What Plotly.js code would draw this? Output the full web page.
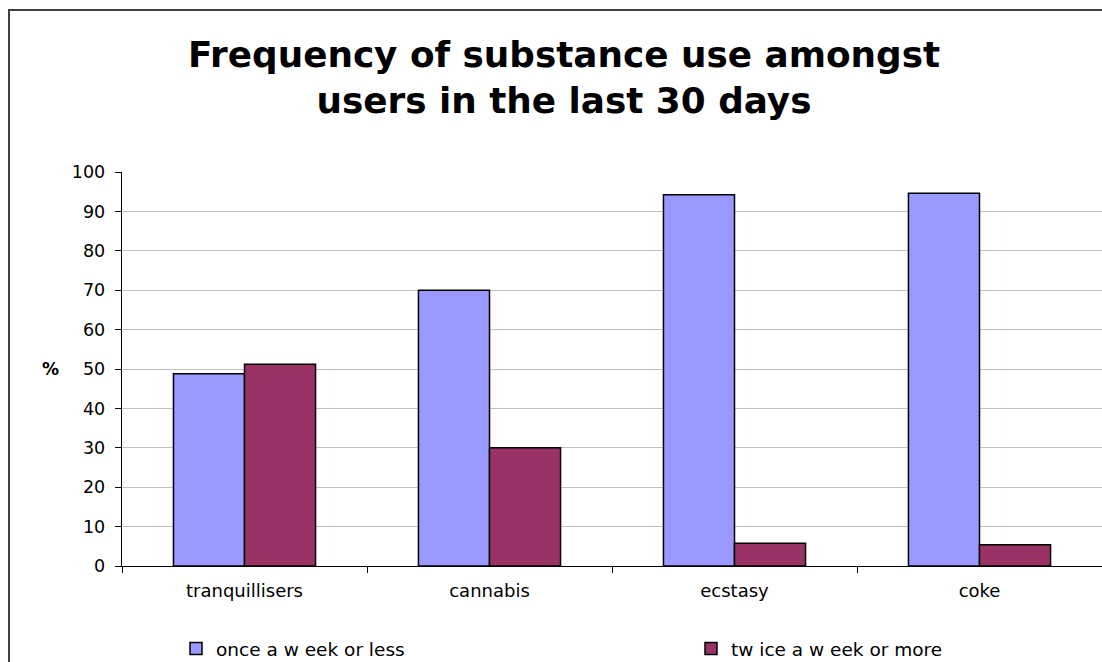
<!DOCTYPE html>
<html>
<head>
<meta charset="utf-8">
<script src="https://cdn.plot.ly/plotly-3.0.1.min.js"></script>
<style>
  html, body { margin: 0; padding: 0; background: #fff; }
  #chart { width: 1102px; height: 662px; }
</style>
</head>
<body>
<div id="chart"></div>
<script>
// Substance categories and the share of users (%) in each frequency band
const categories = ['tranquillisers', 'cannabis', 'ecstasy', 'coke'];
const onceWeekOrLess = [48.8, 70.0, 94.2, 94.6];
const twiceWeekOrMore = [51.2, 30.0, 5.8, 5.4];
const seriesNames = ['once a w eek or less', 'tw ice a w eek or more'];
const yTicks = [0, 10, 20, 30, 40, 50, 60, 70, 80, 90, 100];

const FONT = 'DejaVu Sans, Arial, sans-serif';

const traces = [
  {
    type: 'bar',
    name: seriesNames[0],
    x: categories,
    y: onceWeekOrLess,
    legend: 'legend',
    marker: { color: '#9999FF', line: { color: '#000000', width: 1.5 } },
    hoverinfo: 'x+y'
  },
  {
    type: 'bar',
    name: seriesNames[1],
    x: categories,
    y: twiceWeekOrMore,
    legend: 'legend2',
    marker: { color: '#993366', line: { color: '#000000', width: 1.5 } },
    hoverinfo: 'x+y'
  }
];

const legendBase = {
  orientation: 'h',
  xanchor: 'left',
  y: -0.1624, yanchor: 'top',
  font: { family: FONT, size: 18.5, color: '#000000' },
  bgcolor: 'rgba(0,0,0,0)'
};

const layout = {
  width: 1102,
  height: 662,
  margin: { l: 122, r: 0, t: 172, b: 96, pad: 0, autoexpand: false },
  paper_bgcolor: '#ffffff',
  plot_bgcolor: '#ffffff',
  font: { family: FONT, size: 18, color: '#000000' },
  barmode: 'group',
  bargap: 0.42,
  bargroupgap: 0,
  title: {
    text: 'Frequency of substance use amongst<br>users in the last 30 days',
    font: { family: FONT, size: 35.8, weight: 'bold', color: '#000000' },
    xref: 'container', x: 0.5118, xanchor: 'center',
    yref: 'container', y: 0.899, yanchor: 'top'
  },
  xaxis: {
    type: 'category',
    showline: true, linecolor: '#000000', linewidth: 1.3,
    ticks: 'outside', tickson: 'boundaries', ticklen: 6, tickcolor: '#000000', tickwidth: 1,
    showgrid: false,
    tickfont: { family: FONT, size: 18, color: '#000000' },
    ticklabelstandoff: 8,
    fixedrange: true
  },
  yaxis: {
    range: [0, 100],
    tickvals: yTicks,
    showline: true, linecolor: '#000000', linewidth: 1.3,
    ticks: 'outside', ticklen: 6, tickcolor: '#000000', tickwidth: 1,
    showgrid: true, gridcolor: '#C0C0C0', gridwidth: 1,
    zeroline: false,
    tickfont: { family: FONT, size: 17.5, color: '#000000' },
    ticklabelstandoff: 6,
    fixedrange: true
  },
  showlegend: true,
  legend: Object.assign({}, legendBase, { x: (176 - 122) / 980 }),
  legend2: Object.assign({}, legendBase, { x: (691 - 122) / 980 }),
  annotations: [
    {
      text: '%', xref: 'paper', yref: 'paper',
      x: (50 - 122) / 980, y: (566 - 369) / 394,
      xanchor: 'center', yanchor: 'middle', showarrow: false,
      font: { family: FONT, size: 17, weight: 'bold', color: '#000000' }
    }
  ],
  shapes: [
    {
      type: 'rect', xref: 'paper', yref: 'paper', layer: 'above',
      x0: (9 - 122) / 980, x1: (1110 - 122) / 980,
      y0: (566 - 680) / 394, y1: (566 - 10) / 394,
      line: { color: '#404040', width: 2 }, fillcolor: 'rgba(0,0,0,0)'
    }
  ]
};

Plotly.newPlot('chart', traces, layout, { displayModeBar: false, staticPlot: true });
</script>
</body>
</html>
